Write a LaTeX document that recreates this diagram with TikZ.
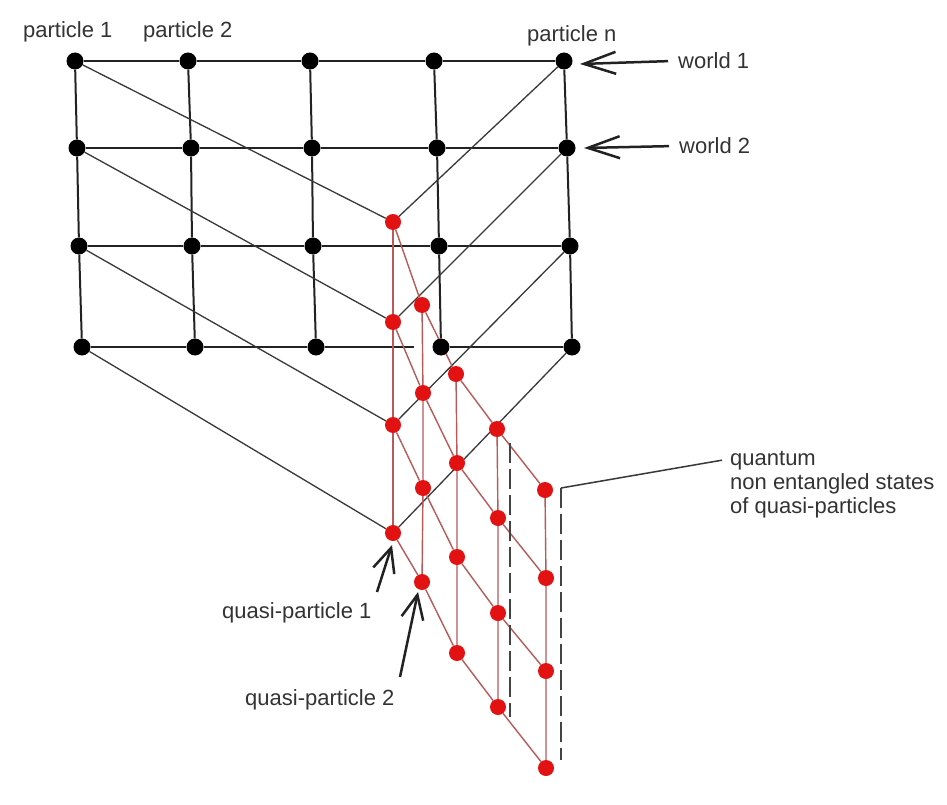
\documentclass[tikz,border=0pt]{standalone}
\usepackage{fontspec}
\setmainfont{Liberation Sans}
\usetikzlibrary{arrows.meta}
\pgfdeclarelayer{bg}
\pgfsetlayers{bg,main}
\definecolor{dotred}{HTML}{E31212}
\definecolor{linered}{HTML}{B85A5A}
\definecolor{ink}{HTML}{222222}
\definecolor{txt}{HTML}{333333}
\tikzset{
  bdot/.style={circle,fill=black,inner sep=0pt,minimum size=17pt},
  rdot/.style={circle,fill=dotred,inner sep=0pt,minimum size=16pt},
  gridline/.style={line width=2pt,draw=ink},
  diagline/.style={line width=1.3pt,draw=ink!90},
  redline/.style={line width=1.4pt,draw=linered},
  dashline/.style={line width=2pt,draw=ink!85,dash pattern=on 20pt off 6pt},
  lab/.style={inner sep=0pt,anchor=base west,text=txt,font=\fontsize{22}{26}\selectfont},
  warrow/.style={line width=2.5pt,draw=ink,-{Straight Barb[length=32pt,width=22pt]}},
  qarrow/.style={line width=2.5pt,draw=ink,-{Straight Barb[length=24pt,width=22pt]}},
  callout/.style={line width=1.5pt,draw=ink!90}
}
\begin{document}
\begin{tikzpicture}[x=1pt,y=-1pt]
\useasboundingbox (0,0) rectangle (947,805);
% black grid points (world r, particle c)
\node[bdot] (B11) at (75,61) {};
\node[bdot] (B12) at (188,61) {};
\node[bdot] (B13) at (310,61) {};
\node[bdot] (B14) at (434,61) {};
\node[bdot] (B15) at (564,61) {};
\node[bdot] (B21) at (77,148) {};
\node[bdot] (B22) at (191,148) {};
\node[bdot] (B23) at (312,148) {};
\node[bdot] (B24) at (437,148) {};
\node[bdot] (B25) at (567,148) {};
\node[bdot] (B31) at (79,246) {};
\node[bdot] (B32) at (192,246) {};
\node[bdot] (B33) at (313,246) {};
\node[bdot] (B34) at (439,246) {};
\node[bdot] (B35) at (570,246) {};
\node[bdot] (B41) at (82,347) {};
\node[bdot] (B42) at (195,347) {};
\node[bdot] (B43) at (316,347) {};
\node[bdot] (B44) at (441,347) {};
\node[bdot] (B45) at (572,347) {};
% red quasi-particle points
\node[rdot] (R11) at (393,222) {};
\node[rdot] (R12) at (422,305) {};
\node[rdot] (R13) at (456,374) {};
\node[rdot] (R14) at (497,429) {};
\node[rdot] (R15) at (545,490) {};
\node[rdot] (R21) at (393,322) {};
\node[rdot] (R22) at (423,393) {};
\node[rdot] (R23) at (457,463) {};
\node[rdot] (R24) at (498,518) {};
\node[rdot] (R25) at (546,578) {};
\node[rdot] (R31) at (393,425) {};
\node[rdot] (R32) at (423,488) {};
\node[rdot] (R33) at (457,557) {};
\node[rdot] (R34) at (498,613) {};
\node[rdot] (R35) at (546,671) {};
\node[rdot] (R41) at (393,533) {};
\node[rdot] (R42) at (422,582) {};
\node[rdot] (R43) at (457,653) {};
\node[rdot] (R44) at (498,707) {};
\node[rdot] (R45) at (546,768) {};
% labels
\node[lab] (p1) at (23,38) {particle 1};
\node[lab] (p2) at (143,38) {particle 2};
\node[lab] (pn) at (527,42) {particle n};
\node[lab] (w1) at (678,69) {world 1};
\node[lab] (w2) at (679,154) {world 2};
\node[lab] (q1) at (730,465) {quantum};
\node[lab] (q2) at (730,489) {non entangled states};
\node[lab] (q3) at (730,513) {of quasi-particles};
\node[lab] (qp1) at (222,618) {quasi-particle 1};
\node[lab] (qp2) at (245,705) {quasi-particle 2};
% helper coordinates
\coordinate (gapL) at (414,347);
\coordinate (w1tip) at (580,64);
\coordinate (w2tip) at (584,148);
\coordinate (qp1s) at (377,592);
\coordinate (qp1tip) at (392,545);
\coordinate (qp2s) at (400,677);
\coordinate (qp2tip) at (418,592);
\coordinate (d1top) at (510,443);
\coordinate (d1bot) at (510,717);
\coordinate (d2top) at (561,488);
\coordinate (d2bot) at (561,760);
\begin{pgfonlayer}{bg}
\fill[white] (0,0) rectangle (947,805);
% grid
\draw[gridline] (B11) -- (B12) -- (B13) -- (B14) -- (B15);
\draw[gridline] (B21) -- (B22) -- (B23) -- (B24) -- (B25);
\draw[gridline] (B31) -- (B32) -- (B33) -- (B34) -- (B35);
\draw[gridline] (B41) -- (B42) -- (B43) -- (gapL);
\draw[gridline] (B44) -- (B45);
\draw[gridline] (B11) -- (B21) -- (B31) -- (B41);
\draw[gridline] (B12) -- (B22) -- (B32) -- (B42);
\draw[gridline] (B13) -- (B23) -- (B33) -- (B43);
\draw[gridline] (B14) -- (B24) -- (B34) -- (B44);
\draw[gridline] (B15) -- (B25) -- (B35) -- (B45);
% black links to quasi-particles
\draw[diagline] (B11) -- (R11) -- (B15);
\draw[diagline] (B21) -- (R21) -- (B25);
\draw[diagline] (B31) -- (R31) -- (B35);
\draw[diagline] (B41) -- (R41) -- (B45);
% red lattice
\draw[redline] (R11) -- (R12) -- (R13) -- (R14) -- (R15);
\draw[redline] (R21) -- (R22) -- (R23) -- (R24) -- (R25);
\draw[redline] (R31) -- (R32) -- (R33) -- (R34) -- (R35);
\draw[redline] (R41) -- (R42) -- (R43) -- (R44) -- (R45);
\draw[redline] (R11) -- (R21) -- (R31) -- (R41);
\draw[redline] (R12) -- (R22) -- (R32) -- (R42);
\draw[redline] (R13) -- (R23) -- (R33) -- (R43);
\draw[redline] (R14) -- (R24) -- (R34) -- (R44);
\draw[redline] (R15) -- (R25) -- (R35) -- (R45);
% dashed lines and callout
\draw[dashline] (d1top) -- (d1bot);
\draw[dashline] (d2top) -- (d2bot);
\draw[callout] (d2top) -- ([xshift=-8pt]q1.west);
\end{pgfonlayer}
% arrows
\draw[warrow] ([xshift=-10pt]w1.west) -- (w1tip);
\draw[warrow] ([xshift=-10pt]w2.west) -- (w2tip);
\draw[qarrow] (qp1s) -- (qp1tip);
\draw[qarrow] (qp2s) -- (qp2tip);
\end{tikzpicture}
\end{document}
